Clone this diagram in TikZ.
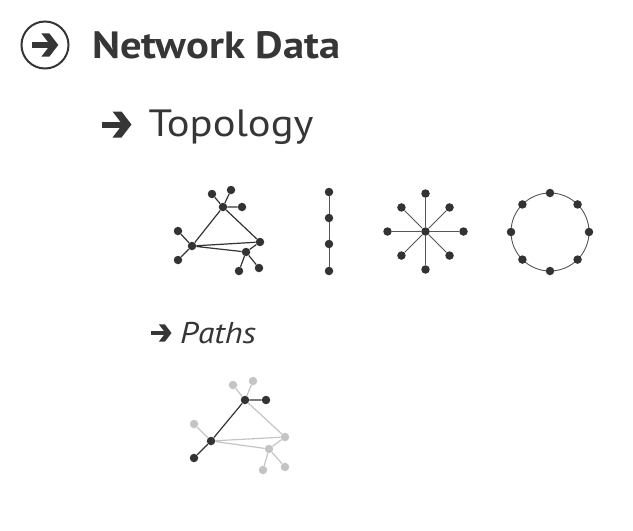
\documentclass[tikz,border=0pt]{standalone}
\usepackage{fontspec}
\setmainfont{PT Sans}[FakeStretch=1.12]
\usetikzlibrary{calc}
\definecolor{txt}{HTML}{363636}
\definecolor{dk}{HTML}{333333}
\definecolor{lt}{HTML}{C4C4C4}
\definecolor{edg}{HTML}{555555}
\begin{document}
\begin{tikzpicture}[x=1pt,y=-1pt,
  dot/.style={circle,fill=dk,inner sep=0pt,minimum size=8.5pt},
  ldot/.style={circle,fill=lt,inner sep=0pt,minimum size=8.5pt},
  e/.style={draw=dk,line width=1.2pt},
  le/.style={draw=lt,line width=1.2pt},
  ge/.style={draw=edg,line width=0.9pt},
  arr/.pic={\fill[txt] (-30,-3) rectangle (-8,3);
            \fill[txt] (0,0) -- (-10,-13) -- (-19,-13) -- (-9,0) -- (-19,13) -- (-10,13) -- cycle;},
  lbl/.style={anchor=base west,inner sep=0pt,text=txt}]
\useasboundingbox (0,0) rectangle (633,531);

% headings
\draw[txt,line width=2pt] (45,45) circle (23.5);
\pic[scale=0.89] at (58.3,45) {arr};
\node[lbl,font=\fontsize{38}{40}\selectfont\bfseries] (title) at (92,58.3) {Network Data};
\pic at (131.5,124.5) {arr};
\node[lbl,font=\fontsize{38}{40}\selectfont] (topo) at (148.5,136) {Topology};
\pic[scale=0.67] at (171.5,333) {arr};
\node[lbl,font=\fontsize{30}{32}\selectfont\itshape] (paths) at (180,343) {Paths};

% graph 1
\node[dot] (a) at (223,207) {};
\node[dot] (a1) at (212,194) {};
\node[dot] (a2) at (231,190) {};
\node[dot] (a3) at (242,207) {};
\node[dot] (b) at (192,246) {};
\node[dot] (b1) at (178,231) {};
\node[dot] (b2) at (178,260) {};
\node[dot] (c) at (260,242) {};
\node[dot] (d) at (246,252) {};
\node[dot] (d1) at (239,271) {};
\node[dot] (d2) at (259,268) {};
\draw[e] (a) -- (a1) (a) -- (a2) (a) -- (a3) (a) -- (b) (a) -- (c)
  (b) -- (b1) (b) -- (b2) (b) -- (c) (b) -- (d) (d) -- (c) (d) -- (d1) (d) -- (d2);

% line graph
\node[dot] (p1) at (329,192) {};
\node[dot] (p2) at (329,218) {};
\node[dot] (p3) at (329,244) {};
\node[dot] (p4) at (329,271) {};
\draw[ge] (p1) -- (p2) -- (p3) -- (p4);

% star
\node[dot] (s0) at (425.5,231.5) {};
\foreach \i/\r in {0/38,1/34,2/38,3/34,4/38,5/34,6/38,7/34} {
  \node[dot] (s\i x) at ($(s0)+(\i*45:\r)$) {};
  \draw[ge] (s0) -- (s\i x);
}

% ring
\coordinate (rc) at (550,232);
\draw[edg,line width=0.9pt] (rc) circle (39);
\foreach \i in {0,...,7} {
  \node[dot] (r\i) at ($(rc)+(\i*45:39)$) {};
}

% paths graph
\node[dot] (A) at (245,400) {};
\node[ldot] (A1) at (233,385) {};
\node[ldot] (A2) at (253,381) {};
\node[dot] (A3) at (266,400) {};
\node[dot] (B) at (211,441) {};
\node[ldot] (B1) at (194,424) {};
\node[dot] (B2) at (194,458) {};
\node[ldot] (C) at (285,437) {};
\node[ldot] (D) at (269,449) {};
\node[ldot] (D1) at (263,470) {};
\node[ldot] (D2) at (285,467) {};
\draw[le] (A) -- (A1) (A) -- (A2) (A) -- (C) (B) -- (B1) (B) -- (C) (B) -- (D)
  (D) -- (C) (D) -- (D1) (D) -- (D2);
\draw[e] (B2) -- (B) -- (A) -- (A3);
\end{tikzpicture}
\end{document}
